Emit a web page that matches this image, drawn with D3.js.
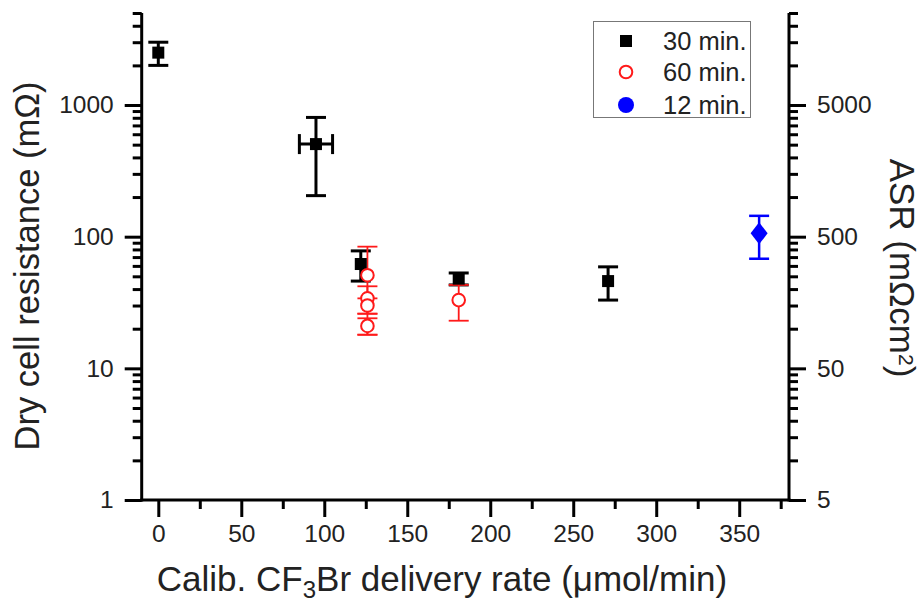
<!DOCTYPE html>
<html>
<head>
<meta charset="utf-8">
<script src="https://cdn.jsdelivr.net/npm/d3@7"></script>
<style>
  html, body { margin: 0; padding: 0; background: #fff; }
  svg { display: block; font-family: "Liberation Sans", Arial, sans-serif; }
</style>
</head>
<body>
<svg id="chart" width="921" height="602"></svg>
<script>
// 30 min. exposure (black squares)
const x30 = [0, 95, 122, 181, 271];
const y30 = [2500, 505, 62, 48, 46];
const y30Err = [500, 300, 16, 5, 13];
const x30Err = [0, 10, 0, 0, 0];

// 60 min. exposure (red open circles)
const x60 = [126, 126, 126, 126, 181];
const y60 = [51, 34, 30, 21, 33];
const y60Err = [33, 8, 4, 3, 10];

// 12 min. exposure (blue diamond)
const x12 = [362];
const y12 = [106];
const y12Err = [38];

const xTicks = [0, 50, 100, 150, 200, 250, 300, 350];
const yTicks = [1, 10, 100, 1000];
const asrFactor = 5; // ASR = resistance x active area
const legendLabels = ["30 min.", "60 min.", "12 min."];

const svg = d3.select("#chart");
const pLeft = 141.7, pRight = 789, pTop = 13, pBottom = 500;

const x = d3.scaleLinear().domain([-10, 380]).range([pLeft, pRight]);
const y = d3.scaleLog().domain([1, 5000]).range([pBottom, pTop]);
const yR = d3.scaleLog().domain([1 * asrFactor, 5000 * asrFactor]).range([pBottom, pTop]);

// minor ticks on the log axis: 2..9 of each decade
const minorY = [];
for (let d = 1; d <= 1000; d *= 10) {
  for (let k = 2; k <= 9; k++) { if (k * d <= 5000) minorY.push(k * d); }
}
const minorX = d3.range(-25, 380, 50).filter(v => v > -10);

const axisColor = "#000";
const tickFont = 24.5;
const titleFont = 35;
const g = svg.append("g");

// axis lines
g.append("line").attr("x1", pLeft).attr("x2", pLeft).attr("y1", pTop).attr("y2", pBottom + 1.5)
  .attr("stroke", axisColor).attr("stroke-width", 3);
g.append("line").attr("x1", pRight).attr("x2", pRight).attr("y1", pTop).attr("y2", pBottom + 1.5)
  .attr("stroke", axisColor).attr("stroke-width", 3);
g.append("line").attr("x1", pLeft - 1.5).attr("x2", pRight + 1.5).attr("y1", pBottom).attr("y2", pBottom)
  .attr("stroke", axisColor).attr("stroke-width", 3);

// bottom axis
const xAxis = d3.axisBottom(x).tickValues(xTicks).tickSize(17).tickPadding(8).tickFormat(d3.format("d"));
const gx = svg.append("g").attr("transform", `translate(0,${pBottom})`).call(xAxis);
gx.select(".domain").remove();
gx.selectAll(".tick line").attr("stroke-width", 3).attr("stroke", axisColor);
gx.selectAll("text").attr("font-size", tickFont).attr("fill", "#222");
const gxm = svg.append("g").attr("transform", `translate(0,${pBottom})`)
  .call(d3.axisBottom(x).tickValues(minorX).tickSize(9).tickFormat(""));
gxm.select(".domain").remove();
gxm.selectAll(".tick line").attr("stroke-width", 3).attr("stroke", axisColor);

// left axis
const yAxis = d3.axisLeft(y).tickValues(yTicks).tickSize(17).tickPadding(11).tickFormat(d3.format("d"));
const gy = svg.append("g").attr("transform", `translate(${pLeft},0)`).call(yAxis);
gy.select(".domain").remove();
gy.selectAll(".tick line").attr("stroke-width", 3).attr("stroke", axisColor);
gy.selectAll("text").attr("font-size", tickFont).attr("fill", "#222");
const gym = svg.append("g").attr("transform", `translate(${pLeft},0)`)
  .call(d3.axisLeft(y).tickValues(minorY).tickSize(9).tickFormat(""));
gym.select(".domain").remove();
gym.selectAll(".tick line").attr("stroke-width", 3).attr("stroke", axisColor);

// right axis (ASR)
const yRTicks = yTicks.map(v => v * asrFactor);
const yRAxis = d3.axisRight(yR).tickValues(yRTicks).tickSize(17).tickPadding(11).tickFormat(d3.format("d"));
const gyr = svg.append("g").attr("transform", `translate(${pRight},0)`).call(yRAxis);
gyr.select(".domain").remove();
gyr.selectAll(".tick line").attr("stroke-width", 3).attr("stroke", axisColor);
gyr.selectAll("text").attr("font-size", tickFont).attr("fill", "#222");
const gyrm = svg.append("g").attr("transform", `translate(${pRight},0)`)
  .call(d3.axisRight(yR).tickValues(minorY.map(v => v * asrFactor)).tickSize(9).tickFormat(""));
gyrm.select(".domain").remove();
gyrm.selectAll(".tick line").attr("stroke-width", 3).attr("stroke", axisColor);

// axis titles
const xt = svg.append("text").attr("x", 442).attr("y", 591)
  .attr("text-anchor", "middle").attr("font-size", titleFont).attr("fill", "#222");
xt.append("tspan").text("Calib. CF");
xt.append("tspan").attr("font-size", 24).attr("dy", 7).text("3");
xt.append("tspan").attr("dy", -7).text("Br delivery rate (\u03bcmol/min)");

svg.append("text").attr("transform", `translate(38.5,266) rotate(-90)`)
  .attr("text-anchor", "middle").attr("font-size", 34.5).attr("fill", "#222")
  .text("Dry cell resistance (m\u03a9)");

const rt = svg.append("text").attr("transform", `translate(890,268) rotate(90)`)
  .attr("text-anchor", "middle").attr("font-size", 35).attr("fill", "#222");
rt.append("tspan").text("ASR (m\u03a9cm");
rt.append("tspan").attr("font-size", 21).attr("dy", -9).text("2");
rt.append("tspan").attr("dy", 9).text(")");

// error bars
function errorBars(xs, ys, errs, color, width) {
  const cap = 10;
  const eg = svg.append("g").attr("stroke", color).attr("stroke-width", width).attr("fill", "none");
  xs.forEach((xv, i) => {
    const cx = x(xv), hi = y(ys[i] + errs[i]), lo = y(ys[i] - errs[i]);
    eg.append("line").attr("x1", cx).attr("x2", cx).attr("y1", hi).attr("y2", lo);
    eg.append("line").attr("x1", cx - cap).attr("x2", cx + cap).attr("y1", hi).attr("y2", hi);
    eg.append("line").attr("x1", cx - cap).attr("x2", cx + cap).attr("y1", lo).attr("y2", lo);
  });
}
function xErrorBars(xs, ys, errs, color, width) {
  const cap = 10;
  const eg = svg.append("g").attr("stroke", color).attr("stroke-width", width);
  xs.forEach((xv, i) => {
    if (!errs[i]) return;
    const cy = y(ys[i]), l = x(xv - errs[i]), r = x(xv + errs[i]);
    eg.append("line").attr("x1", l).attr("x2", r).attr("y1", cy).attr("y2", cy);
    eg.append("line").attr("x1", l).attr("x2", l).attr("y1", cy - cap).attr("y2", cy + cap);
    eg.append("line").attr("x1", r).attr("x2", r).attr("y1", cy - cap).attr("y2", cy + cap);
  });
}

errorBars(x30, y30, y30Err, "#000", 3);
xErrorBars(x30, y30, x30Err, "#000", 3);
errorBars(x60, y60, y60Err, "#ff1a1a", 1.8);
errorBars(x12, y12, y12Err, "#0000ff", 2.5);

// markers
svg.append("g").selectAll("rect").data(x30).join("rect")
  .attr("x", (d) => x(d) - 6).attr("y", (d, i) => y(y30[i]) - 6)
  .attr("width", 12).attr("height", 12).attr("fill", "#000");

svg.append("g").selectAll("circle").data(x60).join("circle")
  .attr("cx", d => x(d)).attr("cy", (d, i) => y(y60[i])).attr("r", 6.3)
  .attr("fill", "#fff").attr("stroke", "#ff1a1a").attr("stroke-width", 2);

svg.append("g").selectAll("path").data(x12).join("path")
  .attr("d", (d, i) => {
    const cx = x(d), cy = y(y12[i]);
    return `M${cx},${cy - 11}L${cx + 8.5},${cy}L${cx},${cy + 11}L${cx - 8.5},${cy}Z`;
  })
  .attr("fill", "#0000ff");

// legend
const lg = svg.append("g");
lg.append("rect").attr("x", 593.5).attr("y", 21.5).attr("width", 157).attr("height", 96)
  .attr("fill", "#fff").attr("stroke", "#777").attr("stroke-width", 1);
const rowY = [41, 72, 105];
lg.append("rect").attr("x", 626 - 6).attr("y", rowY[0] - 6).attr("width", 12).attr("height", 12).attr("fill", "#000");
lg.append("circle").attr("cx", 626).attr("cy", rowY[1]).attr("r", 6.3)
  .attr("fill", "#fff").attr("stroke", "#ff1a1a").attr("stroke-width", 2);
lg.append("circle").attr("cx", 626).attr("cy", rowY[2]).attr("r", 8).attr("fill", "#0000ff");
legendLabels.forEach((t, i) => {
  lg.append("text").attr("x", 663).attr("y", rowY[i]).attr("dy", "0.36em")
    .attr("font-size", 25.5).attr("fill", "#222").text(t);
});
</script>
</body>
</html>
